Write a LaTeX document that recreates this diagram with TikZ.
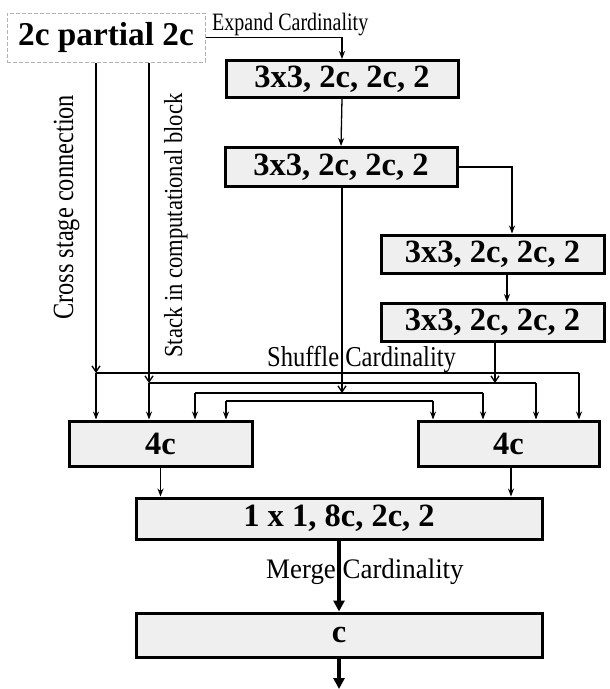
\documentclass[tikz,border=0pt]{standalone}
\usepackage{fontspec}
\setmainfont{Liberation Serif}
\usetikzlibrary{arrows.meta}
\definecolor{boxfill}{HTML}{EFEFEF}
\begin{document}
\begin{tikzpicture}[x=1pt,y=-1pt,
  blk/.style={draw=black, line width=3pt, fill=boxfill, inner sep=0pt, font=\fontsize{32.5}{34}\selectfont\bfseries},
  arr/.style={line width=1.3pt, -{Stealth[length=8pt,width=6pt]}},
  barb/.style={line width=1.3pt, -{Straight Barb[length=6pt,width=8pt]}},
  ln/.style={line width=1.3pt},
  thk/.style={line width=3.2pt, -{Triangle[length=11pt,width=11pt]}},
  lbl/.style={inner sep=0pt, anchor=base west}]
\useasboundingbox (0,0) rectangle (610,689);
\fill[white] (0,0) rectangle (610,689);

\node[draw=gray!60, dashed, line width=1pt, dash pattern=on 4pt off 2pt, minimum width=198, minimum height=49, inner sep=0pt,
      font=\fontsize{33.3}{35}\selectfont\bfseries] (partial) at (106,37.5) {2c partial 2c};
\node[blk, minimum width=232, minimum height=37] (b1) at (342,79) {3x3, 2c, 2c, 2};
\node[blk, minimum width=232, minimum height=39] (b2) at (341,167) {3x3, 2c, 2c, 2};
\node[blk, minimum width=223, minimum height=38] (b3) at (492.5,254) {3x3, 2c, 2c, 2};
\node[blk, minimum width=223, minimum height=38] (b4) at (492.5,322.5) {3x3, 2c, 2c, 2};
\node[blk, minimum width=183, minimum height=45] (c4l) at (160.5,443.5) {4c};
\node[blk, minimum width=181, minimum height=45] (c4r) at (508.5,443.5) {4c};
\node[blk, minimum width=406, minimum height=41] (m11) at (339,518.5) {1 x 1, 8c, 2c, 2};
\node[blk, minimum width=406, minimum height=44] (cb) at (339,635) {c};

\node[lbl, font=\fontsize{20}{22}\selectfont] (exp) at (212,30) {\scalebox{1}[1.25]{Expand Cardinality}};
\node[lbl, font=\fontsize{24.6}{26}\selectfont] (shuf) at (267,366) {\scalebox{1}[1.17]{Shuffle Cardinality}};
\node[lbl, font=\fontsize{26.9}{28}\selectfont] (merge) at (266,578) {\scalebox{1}[1.05]{Merge Cardinality}};
\node[lbl, rotate=90, font=\fontsize{24.4}{26}\selectfont] (csc) at (73,320) {\scalebox{1}[1.2]{Cross stage connection}};
\node[lbl, rotate=90, font=\fontsize{22.6}{24}\selectfont] (stk) at (182,358) {\scalebox{1}[1.15]{Stack in computational block}};

% top chain
\draw[arr] (partial.east) -| (b1.north);
\draw[arr] (b1.south) -- (b2.north);
\draw[arr] (b2.east) -| ([xshift=19.5pt]b3.north);
\draw[arr] ([xshift=14.5pt]b3.south) -- ([xshift=14.5pt]b4.north);

% shuffle buses
\coordinate (j1) at (96,373);
\coordinate (j2) at (149,383);
\coordinate (j3) at (342,393);
\coordinate (j4) at (495,383);
\draw[barb] (partial.south -| j1) -- (j1);
\draw[barb] (partial.south -| j2) -- (j2);
\draw[barb] (b2.south -| j3) -- (j3);
\draw[barb] (b4.south -| j4) -- (j4);

\foreach \l/\r/\yy [count=\i] in {96/579/373, 149/536/383, 195/483/393, 226/433/401} {
  \coordinate (L\i) at (\l,\yy);
  \coordinate (R\i) at (\r,\yy);
  \draw[ln] (L\i) -- (R\i);
  \draw[arr] (L\i) -- (L\i |- c4l.north);
  \draw[arr] (R\i) -- (R\i |- c4r.north);
}

\draw[arr] (c4l.south) -- (c4l.south |- m11.north);
\draw[arr] ([xshift=2.5pt]c4r.south) -- ([xshift=2.5pt]c4r.south |- m11.north);
\draw[thk] (m11.south) -- (cb.north);
\coordinate (out) at (339,689);
\draw[thk] (cb.south) -- (out);
\end{tikzpicture}
\end{document}
